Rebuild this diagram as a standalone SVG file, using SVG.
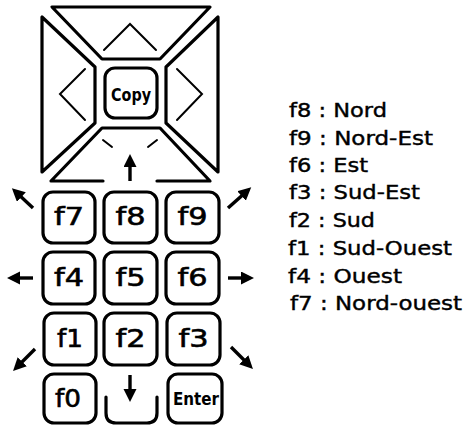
<svg xmlns="http://www.w3.org/2000/svg" width="465" height="425" viewBox="0 0 465 425">
<defs>
<marker id="ah" markerUnits="userSpaceOnUse" markerWidth="14" markerHeight="14" refX="6" refY="6.5" orient="auto">
<path d="M0,0 L13,6.5 L0,13 z" fill="#000"/>
</marker>
<style>
.pc{fill:none;stroke:#000;stroke-width:3.2;stroke-linejoin:round;stroke-linecap:round}
.ch{fill:none;stroke:#000;stroke-width:2;stroke-linecap:round;stroke-linejoin:miter}
.key{fill:#fff;stroke:#000;stroke-width:3.2}
.kt{font-family:"DejaVu Sans","Liberation Sans",sans-serif;font-size:25px;text-anchor:middle;fill:#000;stroke:#000;stroke-width:0.6}
.lt{font-family:"DejaVu Sans","Liberation Sans",sans-serif;font-size:19px;fill:#000;stroke:#000;stroke-width:0.4}
.ar{stroke:#000;stroke-width:3.4;fill:none;marker-end:url(#ah)}
</style>
</defs>
<g id="pad">
<path class="pc" d="M52,7 H210 L160,59 H102 Z"/>
<path class="pc" d="M218,17 V172 L166,123 V67 Z"/>
<path class="pc" d="M103,181 H51 L102,128 H160 L210,181 H157"/>
<path class="pc" d="M42,17 V172 L95,123 V67 Z"/>
<polyline class="ch" points="104,50 130,24 156,50"/>
<polyline class="ch" points="85,69 60,94 85,120"/>
<polyline class="ch" points="177,69 202,94 177,120"/>
<line class="ch" x1="103" y1="140" x2="112" y2="147"/>
<line class="ch" x1="148" y1="147" x2="157" y2="140"/>
</g>
<g id="copy">
<rect class="key" x="105" y="68" width="52" height="50" rx="10"/>
<text x="131" y="101" font-family="DejaVu Sans,Liberation Sans,sans-serif" font-size="17" font-weight="bold" text-anchor="middle" textLength="40" lengthAdjust="spacingAndGlyphs">Copy</text>
</g>
<g id="f7"><rect class="key" x="43" y="192" width="52" height="51" rx="10"/><text class="kt" x="69" y="225" textLength="30" lengthAdjust="spacingAndGlyphs">f7</text></g>
<g id="f8"><rect class="key" x="104" y="192" width="53" height="51" rx="10"/><text class="kt" x="130.5" y="225" textLength="30" lengthAdjust="spacingAndGlyphs">f8</text></g>
<g id="f9"><rect class="key" x="166" y="192" width="53" height="51" rx="10"/><text class="kt" x="192.5" y="225" textLength="30" lengthAdjust="spacingAndGlyphs">f9</text></g>
<g id="f4"><rect class="key" x="43" y="252" width="52" height="52" rx="10"/><text class="kt" x="69" y="286" textLength="30" lengthAdjust="spacingAndGlyphs">f4</text></g>
<g id="f5"><rect class="key" x="104" y="252" width="53" height="52" rx="10"/><text class="kt" x="130.5" y="286" textLength="30" lengthAdjust="spacingAndGlyphs">f5</text></g>
<g id="f6"><rect class="key" x="166" y="252" width="53" height="52" rx="10"/><text class="kt" x="192.5" y="286" textLength="30" lengthAdjust="spacingAndGlyphs">f6</text></g>
<g id="f1"><rect class="key" x="44" y="313" width="52" height="52" rx="10"/><text class="kt" x="70" y="347" textLength="26" lengthAdjust="spacingAndGlyphs">f1</text></g>
<g id="f2"><rect class="key" x="104" y="313" width="53" height="52" rx="10"/><text class="kt" x="130.5" y="347" textLength="30" lengthAdjust="spacingAndGlyphs">f2</text></g>
<g id="f3"><rect class="key" x="167" y="313" width="53" height="52" rx="10"/><text class="kt" x="193.5" y="347" textLength="30" lengthAdjust="spacingAndGlyphs">f3</text></g>
<g id="f0"><rect class="key" x="44" y="374" width="52" height="49" rx="10"/><text class="kt" x="68" y="407" textLength="26" lengthAdjust="spacingAndGlyphs">f0</text></g>
<g id="enter"><rect class="key" x="168" y="374" width="54" height="49" rx="10"/><text x="196" y="405" font-family="DejaVu Sans,Liberation Sans,sans-serif" font-size="17" font-weight="bold" text-anchor="middle" textLength="46" lengthAdjust="spacingAndGlyphs">Enter</text></g>
<g id="slot"><path class="pc" d="M106,397 V413 Q106,423 116,423 H147 Q157,423 157,413 V397"/></g>
<g id="connectors">
<line class="ar" x1="130" y1="181" x2="130" y2="161"/>
<line class="ar" x1="130" y1="375" x2="130" y2="395"/>
<line class="ar" x1="33" y1="208" x2="17" y2="193"/>
<line class="ar" x1="33" y1="278" x2="14" y2="278"/>
<line class="ar" x1="228" y1="278" x2="247" y2="278"/>
<line class="ar" x1="228" y1="208" x2="246" y2="192"/>
<line class="ar" x1="35" y1="349" x2="18" y2="366"/>
<line class="ar" x1="231" y1="347" x2="248" y2="364"/>
</g>
<g id="legend">
<text class="lt" x="289" y="117" textLength="98" lengthAdjust="spacingAndGlyphs">f8 : Nord</text>
<text class="lt" x="289" y="145" textLength="144" lengthAdjust="spacingAndGlyphs">f9 : Nord-Est</text>
<text class="lt" x="289" y="172" textLength="79" lengthAdjust="spacingAndGlyphs">f6 : Est</text>
<text class="lt" x="289" y="199" textLength="131" lengthAdjust="spacingAndGlyphs">f3 : Sud-Est</text>
<text class="lt" x="289" y="227" textLength="86" lengthAdjust="spacingAndGlyphs">f2 : Sud</text>
<text class="lt" x="288" y="255" textLength="164" lengthAdjust="spacingAndGlyphs">f1 : Sud-Ouest</text>
<text class="lt" x="288" y="283" textLength="114" lengthAdjust="spacingAndGlyphs">f4 : Ouest</text>
<text class="lt" x="290" y="310" textLength="172" lengthAdjust="spacingAndGlyphs">f7 : Nord-ouest</text>
</g>
</svg>
